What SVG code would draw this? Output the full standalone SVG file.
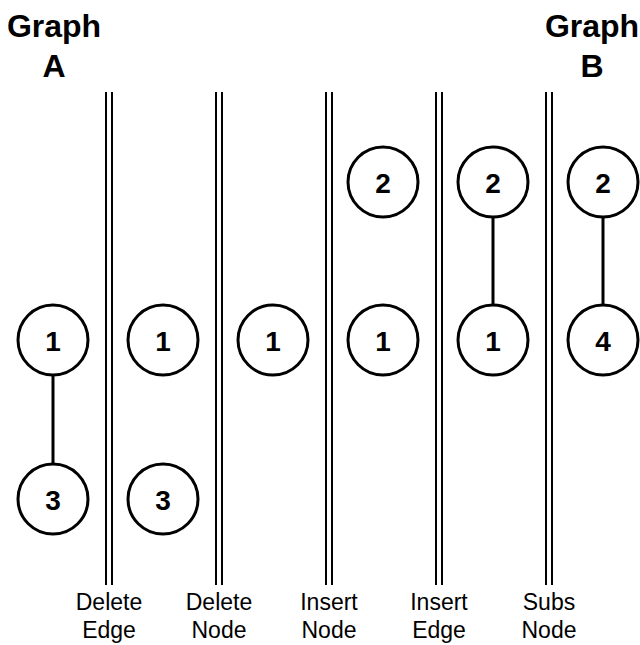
<svg xmlns="http://www.w3.org/2000/svg" width="640" height="645" viewBox="0 0 640 645">
<style>
.n circle{fill:#fff;stroke:#000;stroke-width:3}
.n text{font-family:"Liberation Sans",Arial,sans-serif;font-weight:bold;font-size:28px;text-anchor:middle;dominant-baseline:central}
.e line{stroke:#000;stroke-width:3}
.sep line{stroke:#000;stroke-width:2}
.title{font-family:"Liberation Sans",Arial,sans-serif;font-weight:bold;font-size:32px;text-anchor:middle}
.lab{font-family:"Liberation Sans",Arial,sans-serif;font-size:23px;text-anchor:middle}
</style>
<rect width="640" height="645" fill="#fff"/>
<text class="title" x="54" y="37">Graph</text>
<text class="title" x="54" y="77">A</text>
<text class="title" x="592" y="37">Graph</text>
<text class="title" x="592" y="77">B</text>
<g class="sep">
<line x1="106" y1="92" x2="106" y2="585"/><line x1="112" y1="92" x2="112" y2="585"/>
<line x1="216" y1="92" x2="216" y2="585"/><line x1="222" y1="92" x2="222" y2="585"/>
<line x1="326" y1="92" x2="326" y2="585"/><line x1="332" y1="92" x2="332" y2="585"/>
<line x1="436" y1="92" x2="436" y2="585"/><line x1="442" y1="92" x2="442" y2="585"/>
<line x1="546" y1="92" x2="546" y2="585"/><line x1="552" y1="92" x2="552" y2="585"/>
</g>
<g class="lab">
<text x="109" y="610">Delete</text><text x="109" y="638">Edge</text>
<text x="219" y="610">Delete</text><text x="219" y="638">Node</text>
<text x="329" y="610">Insert</text><text x="329" y="638">Node</text>
<text x="439" y="610">Insert</text><text x="439" y="638">Edge</text>
<text x="549" y="610">Subs</text><text x="549" y="638">Node</text>
</g>
<g class="e">
<line x1="53" y1="375" x2="53" y2="465"/>
<line x1="493" y1="217" x2="493" y2="307"/>
<line x1="603" y1="217" x2="603" y2="307"/>
</g>
<g id="a1" class="n"><circle cx="53" cy="340" r="35"/><text x="53" y="341">1</text></g>
<g id="a3" class="n"><circle cx="53" cy="499" r="35"/><text x="53" y="500">3</text></g>
<g id="b1" class="n"><circle cx="163" cy="340" r="35"/><text x="163" y="341">1</text></g>
<g id="b3" class="n"><circle cx="163" cy="499" r="35"/><text x="163" y="500">3</text></g>
<g id="c1" class="n"><circle cx="273" cy="340" r="35"/><text x="273" y="341">1</text></g>
<g id="d2" class="n"><circle cx="383" cy="182" r="35"/><text x="383" y="183">2</text></g>
<g id="d1" class="n"><circle cx="383" cy="340" r="35"/><text x="383" y="341">1</text></g>
<g id="e2" class="n"><circle cx="493" cy="182" r="35"/><text x="493" y="183">2</text></g>
<g id="e1" class="n"><circle cx="493" cy="340" r="35"/><text x="493" y="341">1</text></g>
<g id="f2" class="n"><circle cx="603" cy="182" r="35"/><text x="603" y="183">2</text></g>
<g id="f4" class="n"><circle cx="603" cy="340" r="35"/><text x="603" y="341">4</text></g>
</svg>
